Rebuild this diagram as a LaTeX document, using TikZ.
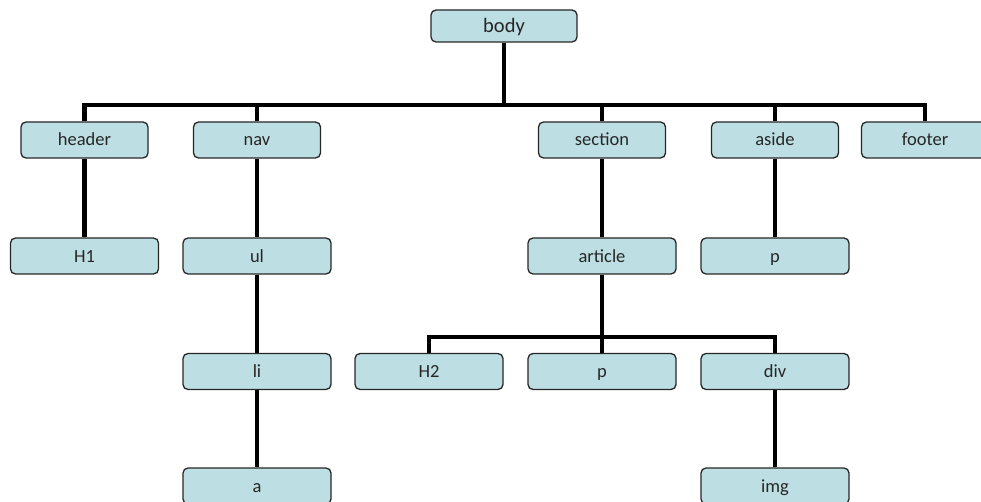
\documentclass[tikz,border=0pt]{standalone}
\usepackage{fontspec}
\setmainfont{Carlito}
\usetikzlibrary{positioning,calc}
\definecolor{tagfill}{RGB}{189,223,228}
\tikzset{
  tag/.style={draw=black!85, fill=tagfill, rounded corners=5pt, line width=1.3pt,
    minimum width=148pt, minimum height=36pt, inner sep=0pt,
    text height=15pt, text depth=3pt,
    font=\fontsize{18.5}{22}\selectfont, text=black!85},
  toptag/.style={tag, minimum width=127pt},
  roottag/.style={tag, minimum width=146pt, minimum height=32pt,
    text height=16pt, text depth=3pt, font=\fontsize{20.5}{24}\selectfont},
  link/.style={draw=black, line width=4.8pt}
}

\begin{document}
\begin{tikzpicture}[x=1pt, y=-1pt]
    \useasboundingbox (0,0) rectangle (981,502);
    \clip (0,0) rectangle (981,502);

    % bus lines
    \coordinate (bus1) at (0,105);
    \coordinate (bus2) at (0,337);

    \node[roottag] (body) at (504,26) {body};

    \node[toptag] (header)  at (84.5,140) {header};
    \node[toptag] (nav)     at (257,140) {nav};
    \node[toptag] (section) at (602,140) {section};
    \node[toptag] (aside)   at (775,140) {aside};
    \node[toptag] (footer)  at (925,140) {footer};

    \node[tag] (h1)      at (84.5,256) {H1};
    \node[tag] (ul)      at (257,256) {ul};
    \node[tag] (article) at (602,256) {article};
    \node[tag] (asidep)  at (775,256) {p};

    \node[tag] (li)   at (257,371.5) {li};
    \node[tag] (h2)   at (429,371.5) {H2};
    \node[tag] (artp) at (602,371.5) {p};
    \node[tag] (div)  at (775,371.5) {div};

    \node[tag] (a)   at (257,486) {a};
    \node[tag] (img) at (775,486) {img};

    % body children
    \draw[link] (body.south) -- (body.south |- bus1);
    \draw[link] (header.north) |- (footer.north |- bus1) -- (footer.north);
    \draw[link] (nav.north) -- (nav.north |- bus1);
    \draw[link] (section.north) -- (section.north |- bus1);
    \draw[link] (aside.north) -- (aside.north |- bus1);

    \draw[link] (header) -- (h1);
    \draw[link] (nav) -- (ul);
    \draw[link] (ul) -- (li);
    \draw[link] (li) -- (a);
    \draw[link] (section) -- (article);
    \draw[link] (aside) -- (asidep);

    % article children
    \draw[link] (article.south) -- (article.south |- bus2);
    \draw[link] (h2.north) |- (div.north |- bus2) -- (div.north);
    \draw[link] (artp.north) -- (artp.north |- bus2);
    \draw[link] (div) -- (img);
\end{tikzpicture}
\end{document}
